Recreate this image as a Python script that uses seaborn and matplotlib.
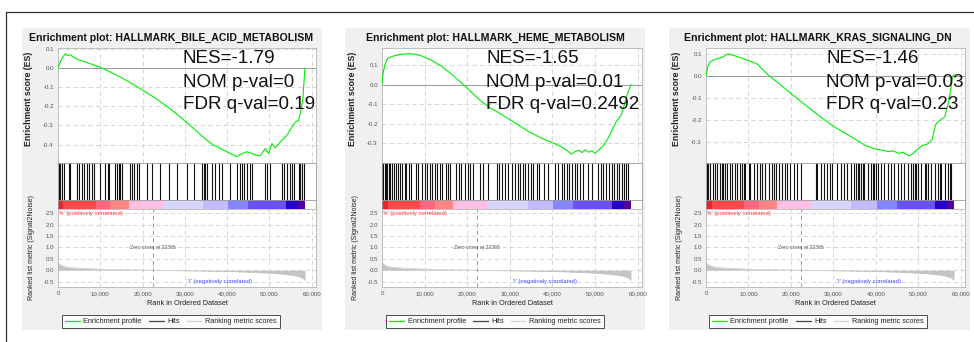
import matplotlib
matplotlib.use("Agg")
import matplotlib.pyplot as plt
from matplotlib.lines import Line2D
from matplotlib.patches import Rectangle
import seaborn as sns

sns.set_theme(style="white")
plt.rcParams['font.family'] = ['Liberation Sans', 'DejaVu Sans']

# --- values ---
titles = ["Enrichment plot: HALLMARK_BILE_ACID_METABOLISM",
          "Enrichment plot: HALLMARK_HEME_METABOLISM",
          "Enrichment plot: HALLMARK_KRAS_SIGNALING_DN"]
nes = ["-1.79", "-1.65", "-1.46"]
nom_p = ["0", "0.01", "0.03"]
fdr_q = ["0.19", "0.2492", "0.23"]

bile_rank = [0, 540, 1100, 1730, 2280, 2910, 3700, 4880, 6060, 7640, 9210, 10000, 11570,
             13150, 14730, 17090, 19460, 22610, 25760, 28910, 32070, 35220, 36790, 38370,
             39940, 41520, 42310, 43100, 44670, 45850, 46640, 47820, 49000, 49800, 50580,
             51370, 52550, 53340, 54130, 55070, 56100, 56890, 57440, 57910, 58150, 58400]
bile_es = [0.0, 0.031, 0.057, 0.075, 0.066, 0.069, 0.057, 0.043, 0.035, 0.023, 0.010, 0.005,
           -0.012, -0.030, -0.047, -0.076, -0.108, -0.151, -0.200, -0.255, -0.316, -0.377,
           -0.403, -0.420, -0.437, -0.455, -0.463, -0.451, -0.437, -0.446, -0.455, -0.458,
           -0.420, -0.446, -0.394, -0.417, -0.385, -0.368, -0.351, -0.316, -0.281, -0.273,
           -0.220, -0.160, -0.073, 0.0]
bile_hits = [150, 540, 940, 1330, 2510, 2910, 4480, 4880, 5670, 6060, 6850, 7240, 8030, 8420,
             10000, 11180, 11730, 11970, 13550, 13940, 14330, 14730, 15120, 17090, 17490,
             17880, 18670, 19060, 21030, 22210, 24180, 26150, 28120, 30490, 32060, 34030,
             34430, 34820, 35220, 36400, 37190, 37970, 38760, 40730, 42310, 43100, 43490,
             43880, 44670, 45460, 45850, 49010, 49400, 50190, 52950, 53340, 54130, 54920,
             55310, 55700, 56890, 57280, 57670, 58070]

heme_rank = [0, 300, 680, 1290, 2050, 2820, 3960, 5480, 6620, 7760, 9280, 11570, 13850,
             16130, 18420, 20700, 22980, 25270, 28310, 31350, 34400, 37440, 39720, 42010,
             43530, 44440, 45200, 46190, 46950, 47710, 48480, 49240, 50000, 51140, 52050,
             53040, 54180, 54940, 55550, 56090, 56850, 57610, 58400]
heme_es = [0.0, 0.064, 0.100, 0.132, 0.140, 0.146, 0.152, 0.156, 0.157, 0.154, 0.146, 0.124,
           0.095, 0.056, 0.013, -0.034, -0.080, -0.117, -0.156, -0.198, -0.240, -0.274,
           -0.294, -0.316, -0.338, -0.355, -0.342, -0.335, -0.347, -0.333, -0.345, -0.338,
           -0.350, -0.328, -0.308, -0.274, -0.223, -0.190, -0.173, -0.156, -0.105, -0.046, 0.0]
heme_hits = [80, 310, 630, 940, 1250, 1650, 1960, 2350, 2820, 3210, 3760, 4310, 4780, 5330,
             5720, 6270, 6740, 8070, 8540, 9480, 10030, 10580, 11200, 11670, 12380, 12920,
             13550, 14180, 14960, 15510, 16060, 17470, 18020, 18640, 19430, 20210, 20760,
             21380, 22950, 23580, 24910, 26870, 27490, 28040, 28830, 29610, 30390, 31180,
             31800, 32350, 32980, 33530, 34310, 34860, 35480, 36270, 36820, 37990, 39010,
             40580, 41360, 42140, 42690, 43320, 43940, 44490, 45280, 45820, 46450, 47080,
             48410, 49190, 50760, 51310, 51930, 52560, 53340, 53890, 54440, 55070, 55690,
             56240, 56790, 57260, 57730]

kras_rank = [0, 400, 790, 1590, 2780, 3970, 5160, 5960, 7150, 8740, 10330, 11920, 13510,
             14700, 16690, 19070, 22250, 26220, 30190, 34170, 37350, 39730, 41320, 42910,
             44100, 45290, 46480, 47680, 48470, 49660, 50860, 52050, 53240, 54030, 54670,
             55460, 56260, 57050, 57610, 58010, 58400]
kras_es = [0.0, 0.041, 0.061, 0.071, 0.079, 0.086, 0.100, 0.097, 0.089, 0.079, 0.067, 0.056,
           0.026, 0.003, -0.027, -0.065, -0.115, -0.176, -0.232, -0.277, -0.315, -0.333,
           -0.338, -0.345, -0.342, -0.353, -0.348, -0.364, -0.358, -0.338, -0.318, -0.312,
           -0.292, -0.224, -0.209, -0.197, -0.186, -0.126, -0.065, -0.012, 0.006]
kras_hits = [160, 550, 950, 1740, 2130, 2530, 3320, 3710, 4110, 4500, 4900, 5680, 6080, 6870,
             7260, 8050, 8450, 8840, 9240, 10030, 10420, 11210, 12000, 12790, 13190, 13970,
             14760, 15550, 15950, 16580, 17130, 17920, 18710, 19110, 19900, 20690, 21470,
             22260, 25820, 26210, 27160, 27790, 28580, 29210, 29760, 30950, 31740, 32530,
             33320, 34110, 34900, 35290, 35690, 36080, 36480, 36870, 37260, 38050, 38840,
             39240, 39630, 40030, 40420, 41210, 42000, 42790, 43580, 44370, 45160, 45950,
             46740, 47530, 48320, 48710, 49110, 49500, 49900, 50690, 51480, 51870, 52270,
             53050, 53840, 54630, 55030, 55420, 56210, 57000, 57400, 57790]

metric_rank = [0, 200, 500, 1000, 2000, 4000, 7000, 10000, 15000, 20000, 22365, 26000, 32000,
               38000, 42000, 45000, 48000, 50000, 52000, 54000, 55500, 56500, 57500, 58000, 58400]
metric_val = [0.38, 0.30, 0.24, 0.19, 0.14, 0.10, 0.07, 0.05, 0.03, 0.01, 0.0, -0.015, -0.03,
              -0.05, -0.065, -0.085, -0.11, -0.13, -0.155, -0.19, -0.225, -0.26, -0.32, -0.37, -0.45]
zero_cross = 22365

heat_edges = [0, 1300, 9000, 12400, 16700, 24900, 34200, 40200, 44900, 53900, 56800, 58400]
heat_colors = ["#e52430", "#ff4848", "#ff6680", "#ff8585", "#ffbfe2", "#d6d6ff",
               "#c2bbff", "#8585ff", "#6a52ef", "#2800cc", "#52009c"]

rank_ticks = [0, 10000, 20000, 30000, 40000, 50000, 60000]
rank_tick_labels = ["0", "10,000", "20,000", "30,000", "40,000", "50,000", "60,000"]
metric_ticks = [-0.5, 0.0, 0.5, 1.0, 1.5, 2.0, 2.5]
es_ylims = [(-0.496, 0.105), (-0.40, 0.186), (-0.397, 0.127)]
es_ticks = [[0.1, 0.0, -0.1, -0.2, -0.3, -0.4], [0.1, 0.0, -0.1, -0.2, -0.3],
            [0.1, 0.0, -0.1, -0.2, -0.3]]

all_rank = [bile_rank, heme_rank, kras_rank]
all_es = [bile_es, heme_es, kras_es]
all_hits = [bile_hits, heme_hits, kras_hits]

# --- layout in pixels ---
W, H = 974, 342
ax_left = [58, 382, 706]
ax_right = [316, 642, 965]
bg_span = [(22, 322), (345, 645), (669, 970)]
stat_x = [183, 486, 826]
centers = [171, 495, 818]
XMAX = 61000


def rect(l, t, r, b):
    return [l / W, 1 - b / H, (r - l) / W, (b - t) / H]


fig = plt.figure(figsize=(W / 100, H / 100), dpi=100)
fig.patch.set_facecolor("white")

# outer frame (top and left edges)
fig.add_artist(Line2D([6 / W, 6 / W], [0, 1 - 12 / H], transform=fig.transFigure, color="#333333", lw=0.9))
fig.add_artist(Line2D([6 / W, 1], [1 - 12 / H, 1 - 12 / H], transform=fig.transFigure, color="#333333", lw=0.9))

grid_kw = dict(color="#cfcfcf", lw=0.6, ls=(0, (5, 4)))
tick_kw = dict(labelsize=4.4, colors="#555555", length=1.5, width=0.4, pad=1.5)

for i in range(3):
    l, r = ax_left[i], ax_right[i]
    b0, b1 = bg_span[i]
    fig.patches.append(Rectangle((b0 / W, 1 - 330 / H), (b1 - b0) / W, (330 - 28) / H,
                                 transform=fig.transFigure, facecolor="#f0f0f0",
                                 edgecolor="none", zorder=-5))
    fig.text(centers[i] / W, 1 - 37.5 / H, titles[i], ha="center", va="center",
             fontsize=7.6, fontweight="bold", color="#111111")

    # enrichment score panel
    ax = fig.add_axes(rect(l, 48, r, 163))
    ax.set_facecolor("white")
    ax.set_xlim(0, XMAX)
    ax.set_ylim(*es_ylims[i])
    ax.set_xticks(rank_ticks)
    ax.set_xticklabels([])
    ax.set_yticks(es_ticks[i])
    ax.set_yticklabels([f"{v:.1f}" for v in es_ticks[i]])
    for v in es_ticks[i]:
        if v != 0:
            ax.axhline(v, **grid_kw, zorder=1)
    for v in rank_ticks[1:]:
        ax.axvline(v, **grid_kw, zorder=1)
    ax.axhline(0, color="#999999", lw=0.7, zorder=2)
    sns.lineplot(x=all_rank[i], y=all_es[i], ax=ax, color="#00ee00", lw=0.8, sort=False, zorder=3)
    ax.tick_params(**tick_kw)
    ax.set_ylabel("Enrichment score (ES)", fontsize=6.3, fontweight="bold", color="#222222")
    ax.yaxis.set_label_coords(-0.095, 0.56)
    for s in ax.spines.values():
        s.set_color("#b5b5b5")
        s.set_linewidth(0.6)
    ty = [0.913, 0.704, 0.513]
    tx = (stat_x[i] - l) / (r - l)
    for y, txt in zip(ty, [f"NES={nes[i]}", f"NOM p-val={nom_p[i]}", f"FDR q-val={fdr_q[i]}"]):
        ax.text(tx, y, txt, transform=ax.transAxes, fontsize=13.6, va="center", ha="left",
                color="#111111", zorder=5)

    # hits
    axh = fig.add_axes(rect(l, 163, r, 200))
    axh.set_facecolor("white")
    axh.vlines(all_hits[i], 0, 1, color="#111111", lw=0.8)
    axh.set_xlim(0, XMAX)
    axh.set_ylim(0, 1)
    axh.set_xticks([])
    axh.set_yticks([])
    for s in axh.spines.values():
        s.set_color("#9a9a9a")
        s.set_linewidth(0.6)

    # heat bar
    axc = fig.add_axes(rect(l, 200, r, 209))
    axc.set_facecolor("white")
    widths = [heat_edges[k + 1] - heat_edges[k] for k in range(len(heat_colors))]
    axc.bar(heat_edges[:-1], [1] * len(widths), width=widths, align="edge",
            color=heat_colors, linewidth=0)
    axc.set_xlim(0, XMAX)
    axc.set_ylim(0, 1)
    axc.set_xticks([])
    axc.set_yticks([])
    for s in axc.spines.values():
        s.set_color("#9a9a9a")
        s.set_linewidth(0.6)

    # ranked list metric
    axr = fig.add_axes(rect(l, 209, r, 287))
    axr.set_facecolor("white")
    axr.set_xlim(0, XMAX)
    axr.set_ylim(-0.74, 2.69)
    for v in metric_ticks:
        axr.axhline(v, **grid_kw, zorder=1)
    for v in rank_ticks[1:]:
        axr.axvline(v, **grid_kw, zorder=1)
    axr.fill_between(metric_rank, metric_val, 0, color="#c4c4c4", lw=0, zorder=2)
    sns.lineplot(x=metric_rank, y=metric_val, ax=axr, color="#c4c4c4", lw=0.4, zorder=2)
    axr.axvline(zero_cross, color="#8a8a8a", lw=0.6, ls=(0, (5, 4)), zorder=3)
    axr.text(zero_cross, 1.0, f"Zero cross at {zero_cross}", fontsize=3.7, color="#555555",
             ha="center", va="center", zorder=4)
    axr.text(200, 2.5, "'h' (positively correlated)", fontsize=4.2, color="#ff3a3a",
             ha="left", va="center", zorder=4)
    axr.text(38300, -0.5, "'l' (negatively correlated)", fontsize=4.2, color="#4848ff",
             ha="center", va="center", zorder=4)
    axr.set_xticks(rank_ticks)
    axr.set_xticklabels(rank_tick_labels)
    axr.set_yticks(metric_ticks)
    axr.set_yticklabels([f"{v:.1f}" for v in metric_ticks])
    axr.tick_params(**tick_kw)
    axr.set_xlabel("Rank in Ordered Dataset", fontsize=5.3, color="#222222", labelpad=3)
    axr.set_ylabel("Ranked list metric (Signal2Noise)", fontsize=5, color="#222222")
    axr.yaxis.set_label_coords(-0.09, 0.5)
    for s in axr.spines.values():
        s.set_color("#b5b5b5")
        s.set_linewidth(0.6)

    handles = [Line2D([], [], color="#00ee00", lw=0.9),
               Line2D([], [], color="#444444", lw=0.9),
               Line2D([], [], color="#d4d4d4", lw=0.9)]
    leg = fig.legend(handles, ["Enrichment profile", "Hits", "Ranking metric scores"],
                     loc="center", bbox_to_anchor=(centers[i] / W, 1 - 321.5 / H), ncol=3,
                     fontsize=5.2, frameon=True, fancybox=False, handlelength=2.0,
                     handletextpad=0.5, columnspacing=1.0, borderpad=0.45)
    leg.get_frame().set_edgecolor("#222222")
    leg.get_frame().set_linewidth(0.7)

fig.savefig("out.png", dpi=100)
